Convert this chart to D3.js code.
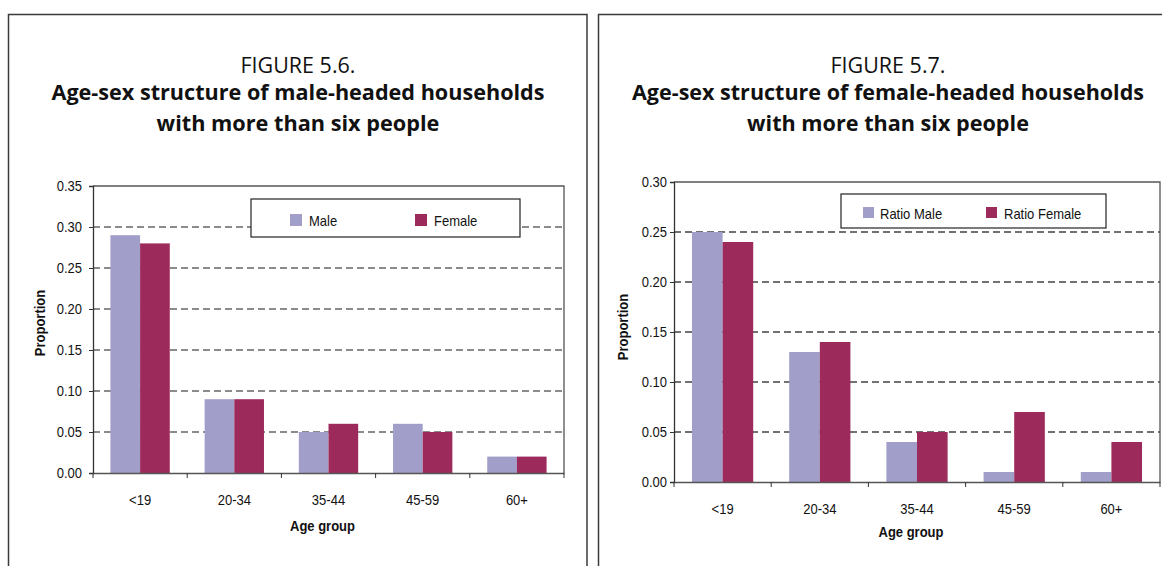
<!DOCTYPE html>
<html><head><meta charset="utf-8">
<script src="https://cdn.jsdelivr.net/npm/d3@7"></script>
<style>
html,body{margin:0;padding:0;background:#fff;}
svg{display:block;}
</style></head>
<body>
<svg id="chart" width="1162" height="566"></svg>
<script>
// ---- Data ----
const categories = ["<19", "20-34", "35-44", "45-59", "60+"];
// Figure 5.6 (male-headed households)
const fig56Male = [0.29, 0.09, 0.05, 0.06, 0.02];
const fig56Female = [0.28, 0.09, 0.06, 0.05, 0.02];
const fig56Ticks = [0, 0.05, 0.10, 0.15, 0.20, 0.25, 0.30, 0.35];
const fig56Series = ["Male", "Female"];
// Figure 5.7 (female-headed households)
const fig57Male = [0.25, 0.13, 0.04, 0.01, 0.01];
const fig57Female = [0.24, 0.14, 0.05, 0.07, 0.04];
const fig57Ticks = [0, 0.05, 0.10, 0.15, 0.20, 0.25, 0.30];
const fig57Series = ["Ratio Male", "Ratio Female"];
const titles56 = ["FIGURE 5.6.", "Age-sex structure of male-headed households", "with more than six people"];
const titles57 = ["FIGURE 5.7.", "Age-sex structure of female-headed households", "with more than six people"];

const colors = ["#a19fc9", "#9c2b5c"];
const svg = d3.select("#chart");
const titleFont = "'Open Sans', 'Noto Sans', sans-serif";
const axisFont = "'Liberation Sans', Arial, sans-serif";

function fitWidth(sel, w) {
  const node = sel.node();
  const len = node.getComputedTextLength();
  const fs = parseFloat(sel.attr("font-size"));
  sel.attr("font-size", (fs * w / len).toFixed(2));
}
// tall, slightly condensed axis text: 15px high, 13px-wide glyphs
function narrow(sel) {
  sel.each(function () {
    const t = d3.select(this);
    t.attr("font-family", axisFont).attr("font-size", 15).attr("fill", "#111");
    const len = this.getComputedTextLength();
    t.attr("textLength", (len * 13 / 15).toFixed(2)).attr("lengthAdjust", "spacingAndGlyphs");
  });
}

function drawPanel(cfg) {
  const g = svg.append("g");
  // outer frame
  g.append("path")
    .attr("d", `M${cfg.fx0},600 V${cfg.fy0} H${cfg.fx1} V600`)
    .attr("fill", "none").attr("stroke", "#3a3a3a").attr("stroke-width", 1.5);

  // titles
  const t0 = g.append("text").attr("x", cfg.tcx).attr("y", cfg.tb[0]).attr("text-anchor", "middle")
    .attr("font-family", titleFont).attr("font-size", 18).attr("fill", "#111").text(cfg.titles[0]);
  fitWidth(t0, cfg.tw[0]);
  for (let i = 1; i < 3; i++) {
    const t = g.append("text").attr("x", cfg.tcx).attr("y", cfg.tb[i]).attr("text-anchor", "middle")
      .attr("font-family", titleFont).attr("font-weight", "bold").attr("font-size", 20).attr("fill", "#111").text(cfg.titles[i]);
    fitWidth(t, cfg.tw[i]);
  }

  const p = cfg.plot;
  const y = d3.scaleLinear().domain([0, d3.max(cfg.ticks)]).range([p.y1, p.y0]);
  const x = d3.scaleBand().domain(categories).range([p.x0, p.x1]).paddingInner(0.37).paddingOuter(0.185);
  const xs = d3.scaleBand().domain([0, 1]).range([0, x.bandwidth()]);

  // gridlines
  g.append("g").selectAll("line").data(cfg.ticks.slice(1, -1)).join("line")
    .attr("x1", p.x0).attr("x2", p.x1)
    .attr("y1", d => y(d)).attr("y2", d => y(d))
    .attr("stroke", cfg.gridColor).attr("stroke-width", 1.3).attr("stroke-dasharray", "7,4");

  // plot frame top & right
  g.append("path").attr("d", `M${p.x0},${p.y0} H${p.x1} V${p.y1}`)
    .attr("fill", "none").attr("stroke", "#555").attr("stroke-width", 1.3);

  // bars
  const series = [cfg.male, cfg.female];
  series.forEach((vals, si) => {
    g.append("g").selectAll("rect").data(vals).join("rect")
      .attr("x", (d, i) => x(categories[i]) + xs(si))
      .attr("width", xs.bandwidth())
      .attr("y", d => y(d))
      .attr("height", d => y(0) - y(d))
      .attr("fill", colors[si]);
  });

  // y axis
  const ya = g.append("g").attr("transform", `translate(${p.x0},0)`)
    .call(d3.axisLeft(y).tickValues(cfg.ticks).tickFormat(d3.format(".2f")).tickSize(4).tickPadding(cfg.ypad));
  ya.select(".domain").attr("stroke", "#333").attr("stroke-width", 1.3);
  ya.selectAll(".tick line").attr("stroke", "#333");
  ya.selectAll("text").call(narrow);

  // x axis
  const xa = g.append("g").attr("transform", `translate(0,${p.y1})`)
    .call(d3.axisBottom(x).tickSize(0).tickPadding(cfg.xpad));
  xa.select(".domain").attr("stroke", "#555").attr("stroke-width", 1.6);
  xa.selectAll("text").call(narrow);
  const bounds = d3.range(categories.length + 1).map(i => p.x0 + i * x.step());
  g.append("g").selectAll("line").data(bounds).join("line")
    .attr("x1", d => d).attr("x2", d => d).attr("y1", p.y1).attr("y2", p.y1 + 5)
    .attr("stroke", "#333").attr("stroke-width", 1);

  // axis titles
  g.append("text").attr("x", (p.x0 + p.x1) / 2 - 6).attr("y", cfg.xtitleY).attr("text-anchor", "middle")
    .attr("font-weight", "bold").text("Age group").call(narrow);
  g.append("text").attr("transform", `translate(${cfg.ytitleX},${cfg.ytitleY}) rotate(-90)`)
    .attr("text-anchor", "middle").attr("font-weight", "bold").text("Proportion").call(narrow);

  // legend
  const L = cfg.legend;
  g.append("rect").attr("x", L.x).attr("y", L.y).attr("width", L.w).attr("height", L.h)
    .attr("fill", "#fff").attr("stroke", "#222").attr("stroke-width", 1.2);
  cfg.seriesNames.forEach((name, i) => {
    g.append("rect").attr("x", L.mx[i]).attr("y", L.my).attr("width", L.ms).attr("height", L.ms).attr("fill", colors[i]);
    g.append("text").attr("x", L.tx[i]).attr("y", L.ty).text(name).call(narrow);
  });
}

drawPanel({
  fx0: 8.5, fx1: 587, fy0: 14.5,
  titles: titles56, tcx: 298, tb: [73, 100, 131], tw: [115, 493, 283],
  plot: { x0: 93, x1: 564, y0: 186, y1: 473 },
  ticks: fig56Ticks, male: fig56Male, female: fig56Female, seriesNames: fig56Series,
  gridColor: "#666", ypad: 7, xpad: 21, xtitleY: 531, ytitleX: 45, ytitleY: 323,
  legend: { x: 251, y: 199, w: 269, h: 38, mx: [290, 415], my: 214, ms: 12, tx: [309, 434], ty: 226 }
});
drawPanel({
  fx0: 598.5, fx1: 1178, fy0: 14.5,
  titles: titles57, tcx: 888, tb: [73, 100, 131], tw: [115, 512, 282],
  plot: { x0: 674, x1: 1160, y0: 182, y1: 482 },
  ticks: fig57Ticks, male: fig57Male, female: fig57Female, seriesNames: fig57Series,
  gridColor: "#444", ypad: 3, xpad: 21, xtitleY: 537, ytitleX: 628, ytitleY: 327,
  legend: { x: 841, y: 194, w: 265, h: 34, mx: [863, 986], my: 207, ms: 11, tx: [880, 1004], ty: 219 }
});
</script>
</body></html>
